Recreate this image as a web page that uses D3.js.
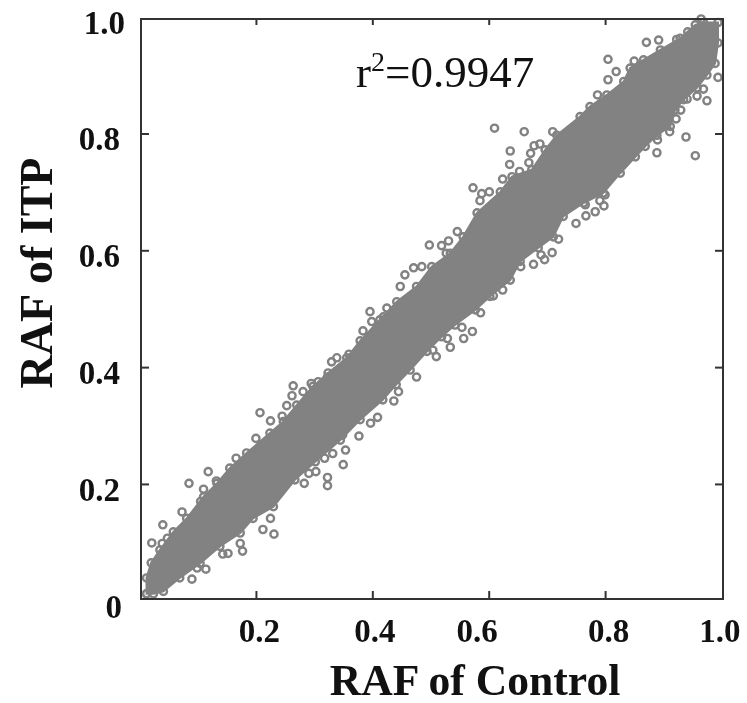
<!DOCTYPE html>
<html>
<head>
<meta charset="utf-8">
<title>RAF of ITP vs RAF of Control</title>
<script src="https://d3js.org/d3.v7.min.js"></script>
<style>
	html, body { margin:0; padding:0; background:#fff; }
	svg { display:block; filter:blur(0.45px); }
	text { font-family:"Liberation Serif", serif; fill:#111; }
	.tick text { font-size:33px; font-weight:bold; }
	.axis-title { font-size:43.6px; font-weight:bold; }
	.domain { display:none; }
	.tick line { stroke:#333; stroke-width:2; }
</style>
</head>
<body>
<div id="content"></div>
<script>
// tick labels
const xTicks = [0.2, 0.4, 0.6, 0.8, 1.0];
const yTicks = [0, 0.2, 0.4, 0.6, 0.8, 1.0];

// the SNPs merge into one solid band: outline, lower-left to upper-right and back
const bandControl = [.012,.012,.020,.035,.058,.081,.110,.133,.155,.184,.224,.247,.270,.298,.324,.356,.379,.413,.442,.476,.502,.534,.556,.580,.620,.640,.674,.697,.717,.757,.774,.803,.832,.843,.866,.895,.929,.955,.969,.994,
	.994,.989,.975,.958,.935,.920,.912,.889,.869,.852,.826,.797,.763,.728,.711,.685,.654,.637,.602,.577,.542,.519,.494,.465,.441,.418,.379,.345,.302,.267,.230,.195,.173,.138,.104,.069,.041,.024,.012];
const bandITP = [.012,.039,.065,.087,.118,.141,.178,.201,.227,.253,.287,.307,.335,.367,.390,.416,.445,.481,.512,.538,.572,.595,.623,.664,.700,.726,.738,.772,.797,.829,.846,.866,.889,.912,.926,.943,.963,.986,.990,.990,
	.955,.920,.900,.878,.858,.840,.812,.797,.778,.760,.732,.698,.681,.658,.623,.604,.581,.549,.521,.498,.472,.452,.427,.395,.370,.344,.310,.275,.238,.207,.161,.141,.116,.093,.064,.039,.016,.012,.012];

// single circles that stand clear of the band
const pointControl = [.021,.040,.048,.039,.073,.085,.118,.132,.166,.105,.110,.090,.114,.099,.152,.143,.177,.173,.212,.231,.225,
	.207,.225,.200,.245,.253,.262,.264,.281,.295,.307,.323,.330,.339,.360,.323,.323,.350,.354,.332,.318,.303,.283,.291,.377,.349,.397,.409,.437,.445,
	.498,.519,.531,.527,.546,.471,.485,.456,.448,.425,.396,.419,.399,.384,.476,.510,.504,.529,.534,.557,.572,.554,.586,.608,.624,
	.610,.661,.637,.636,.669,.672,.678,.688,.710,.624,.573,.585,.601,.588,.583,.653,.709,.696,.677,.655,.690,.720,.750,.767,.783,.766,.798,.800,.791,
	.805,.871,.892,.819,.805,.787,.850,.923,.942,.965,.994,.969,.958,.975,.939,.955,.930,.890,.889,.911,.941,.922];
const pointITP = [.099,.130,.107,.098,.152,.201,.221,.205,.244,.170,.191,.037,.054,.056,.081,.080,.085,.098,.122,.114,.141,
	.322,.308,.278,.316,.334,.351,.368,.358,.372,.375,.383,.409,.416,.422,.211,.197,.233,.258,.252,.244,.221,.201,.218,.282,.284,.304,.314,.342,.358,
	.609,.608,.616,.595,.632,.570,.572,.558,.538,.501,.495,.486,.478,.462,.383,.418,.429,.449,.434,.449,.461,.468,.493,.522,.532,
	.809,.803,.770,.747,.750,.766,.779,.782,.803,.722,.707,.685,.700,.697,.657,.735,.596,.584,.576,.572,.592,.619,.646,.659,.666,.678,.676,.695,.685,
	.927,.956,.960,.906,.892,.866,.924,.961,.974,.996,.896,.876,.864,.856,.794,.762,.840,.789,.767,.803,.859,.825];

const svgWidth = 747;
const svgHeight = 703;
const frame = {left:141, right:723, top:19, bottom:599};
const grey = "#828282";

const xScale = d3.scaleLinear().domain([0.0025, 1.0026]).range([frame.left, frame.right]);
const yScale = d3.scaleLinear().domain([0.003, 0.996]).range([frame.bottom, frame.top]);

const svg = d3.select("#content").append("svg")
	.attr("width", svgWidth)
	.attr("height", svgHeight);

// band and circles
const band = d3.line().x(i => xScale(bandControl[i])).y(i => yScale(bandITP[i]));
svg.append("path")
	.attr("d", band(d3.range(bandControl.length)) + "Z")
	.attr("fill", grey)
	.attr("stroke", grey)
	.attr("stroke-width", 2);

// rings along the outline break up its edge the way the overlapping markers do
const drawRings = (xs, ys) => svg.append("g").selectAll("circle")
	.data(d3.range(xs.length))
	.enter()
	.append("circle")
	.attr("cx", i => xScale(xs[i]))
	.attr("cy", i => yScale(ys[i]))
	.attr("r", 3.6)
	.attr("fill", "none")
	.attr("stroke", grey)
	.attr("stroke-width", 2.4);
drawRings(bandControl, bandITP);
drawRings(pointControl, pointITP);

// frame
svg.append("rect")
	.attr("x", frame.left)
	.attr("y", frame.top)
	.attr("width", frame.right - frame.left)
	.attr("height", frame.bottom - frame.top)
	.attr("fill", "none")
	.attr("stroke", "#333")
	.attr("stroke-width", 2);

// axes, tick marks point inward on all four sides
const labelFormat = d => d === 0 ? "0" : d3.format(".1f")(d);
const xLabelShift = [3, 2, -12, 3, -2];
const yLabelShift = [2, 0, 0, 0, 0, 5];

const bottomAxis = svg.append("g")
	.attr("transform", "translate(0," + frame.bottom + ")")
	.call(d3.axisBottom(xScale).tickValues(xTicks).tickSizeInner(-8).tickPadding(20).tickFormat(labelFormat));
bottomAxis.selectAll("text").attr("dx", (d, i) => xLabelShift[i]);

const leftAxis = svg.append("g")
	.attr("transform", "translate(" + frame.left + ",0)")
	.call(d3.axisLeft(yScale).tickValues(yTicks).tickSizeInner(-8).tickPadding(21).tickFormat(labelFormat));
leftAxis.selectAll("text").attr("dx", (d, i) => yLabelShift[i]).attr("dy", "0.5em");

svg.append("g")
	.attr("transform", "translate(0," + frame.top + ")")
	.call(d3.axisTop(xScale).tickValues(xTicks).tickSizeInner(-6).tickFormat(""));
svg.append("g")
	.attr("transform", "translate(" + frame.right + ",0)")
	.call(d3.axisRight(yScale).tickValues(yTicks).tickSizeInner(-8).tickFormat(""));

// endpoints sit on the frame, they carry a label only
svg.selectAll(".tick line").filter(d => d === 0 || d === 1).remove();

// titles
svg.append("text")
	.attr("class", "axis-title")
	.attr("x", 475)
	.attr("y", 695)
	.attr("text-anchor", "middle")
	.text("RAF of Control");
svg.append("text")
	.attr("class", "axis-title")
	.attr("transform", "translate(52,273) rotate(-90)")
	.attr("text-anchor", "middle")
	.style("font-size", "46px")
	.text("RAF of ITP");

const note = svg.append("text")
	.attr("x", 356)
	.attr("y", 87)
	.style("font-size", "45px");
note.append("tspan").text("r");
note.append("tspan").attr("dy", -16).style("font-size", "28px").text("2");
note.append("tspan").attr("dy", 16).text("=0.9947");
</script>
</body>
</html>
